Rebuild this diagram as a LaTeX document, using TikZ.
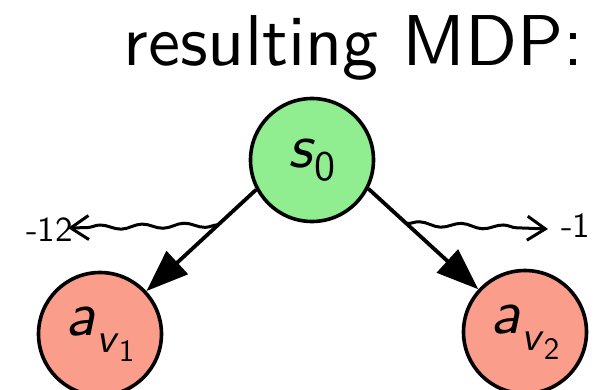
\documentclass[tikz,border=0pt]{standalone}
\usepackage{fontspec}
\setsansfont{lmsans10-regular.otf}[SlantedFont=lmsans10-oblique.otf,ItalicFont=lmsans10-oblique.otf]
\usetikzlibrary{arrows.meta,decorations.pathmorphing,calc}
\begin{document}
\begin{tikzpicture}[x=1pt,y=-1pt,
  state/.style={circle,draw=black,line width=3.6pt,minimum size=123pt,inner sep=0pt,font=\sffamily\fontsize{62}{62}\selectfont},
  startstate/.style={state,fill={rgb,255:red,144;green,238;blue,144}},
  actstate/.style={state,fill={rgb,255:red,250;green,157;blue,138}},
  trans/.style={line width=3.8pt,-{Triangle[length=42pt,width=31pt]}},
  reward/.style={line width=3pt,decorate,decoration={snake,amplitude=2.3pt,segment length=42pt,post length=18pt},-{Straight Barb[length=18pt,width=24pt,line width=3pt]}},
  rlabel/.style={font=\sffamily\fontsize{35}{35}\selectfont,inner sep=0pt}]
\useasboundingbox (0,0) rectangle (594,390);
\node[font=\sffamily\fontsize{72}{72}\selectfont,anchor=base east,inner sep=0pt] (title) at (584,66) {resulting MDP:};
\node[startstate] (s0) at (312,160) {\textsl{s}\raisebox{-0.2em}{\fontsize{42}{42}\selectfont 0}};
\node[actstate] (av1) at (100,334) {\textsl{a}\raisebox{-0.28em}{\fontsize{42}{42}\selectfont\textsl{v}\raisebox{-0.2em}{\fontsize{31}{31}\selectfont 1}}};
\node[actstate] (av2) at (525,332) {\textsl{a}\raisebox{-0.28em}{\fontsize{42}{42}\selectfont\textsl{v}\raisebox{-0.2em}{\fontsize{31}{31}\selectfont 2}}};
% transitions leave s0 below its centre line
\draw[trans] (s0.208) -- (av1);
\draw[trans] (s0.333) -- (av2);
% reward wiggles start on the transition lines
\coordinate (r1) at ($(s0.208)!0.243!(av1.center)$);
\coordinate (r2) at ($(s0.333)!0.243!(av2.center)$);
\node[rlabel,anchor=east] (l1) at (73,230) {-12};
\node[rlabel,anchor=west] (l2) at (561,226) {-1};
\draw[reward] (r1) -- ([xshift=-5pt,yshift=2pt]l1.east);
\draw[reward] (r2) -- ([xshift=-13pt,yshift=-3pt]l2.west);
\end{tikzpicture}
\end{document}
